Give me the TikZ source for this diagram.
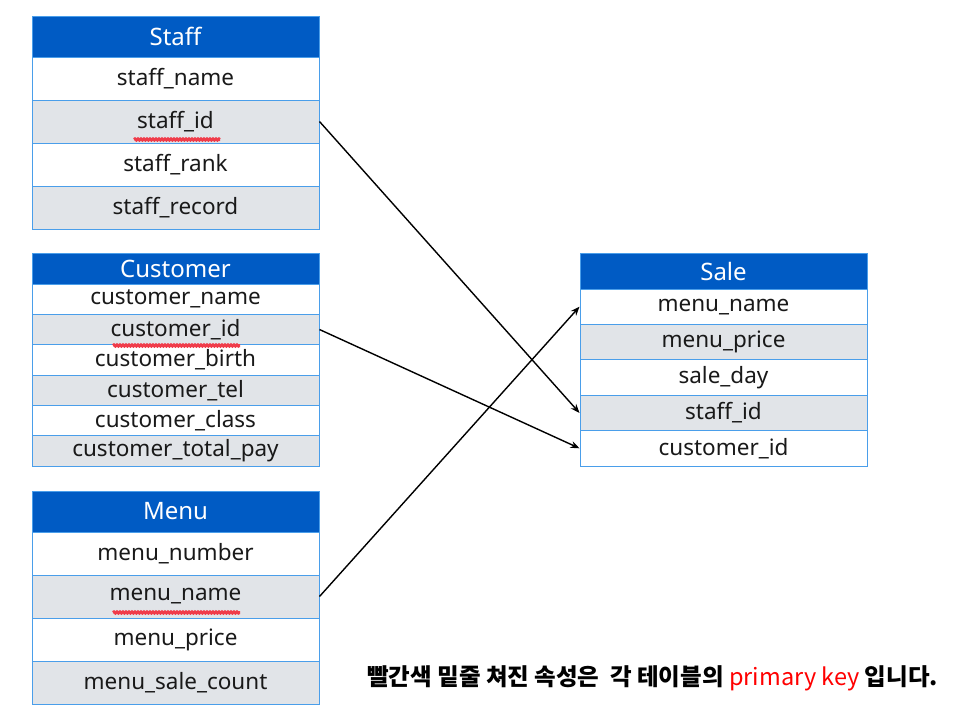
\documentclass[tikz,border=0pt]{standalone}
\usepackage{fontspec}
\setmainfont{Noto Sans}
\newfontfamily\krfont{Noto Sans CJK KR}
\usetikzlibrary{arrows.meta}
\usetikzlibrary{decorations.pathmorphing}

\definecolor{hdrblue}{HTML}{005BC4}
\definecolor{tblline}{HTML}{4A9EEA}
\definecolor{rowgray}{HTML}{E1E4E8}
\definecolor{keyred}{HTML}{F03C4A}
\definecolor{notered}{HTML}{FF0000}

\tikzset{
    cell/.style={draw=tblline, line width=1pt, minimum width=287pt, inner sep=0pt,
        font=\fontsize{22.5}{24}\selectfont, text=black!90},
    hdr/.style={cell, fill=hdrblue, text=white, font=\fontsize{24}{26}\selectfont},
    oddrow/.style={cell, fill=white},
    evenrow/.style={cell, fill=rowgray},
    pkline/.style={keyred, line width=3pt, decorate,
        decoration={snake, amplitude=0.6pt, segment length=3pt}},
    link/.style={line width=1.4pt, -{Stealth[length=9pt, width=7pt]}},
}

\begin{document}
\begin{tikzpicture}[x=1pt, y=-1pt]
            \useasboundingbox[fill=white] (0, 0) rectangle (958, 713);

            % Staff
            \node (staff) at (175.5, 36.5) [hdr, minimum height=41pt] {Staff};
            \node (staffname) at (175.5, 78.5) [oddrow, minimum height=43pt] {staff\_name};
            \node (staffid) at (175.5, 121.5) [evenrow, minimum height=43pt] {staff\_id};
            \node (staffrank) at (175.5, 164.5) [oddrow, minimum height=43pt] {staff\_rank};
            \node (staffrecord) at (175.5, 207.5) [evenrow, minimum height=43pt] {staff\_record};
            \draw[pkline] (134, 139.5) -- (220, 139.5);

            % Customer
            \node (customer) at (175.5, 268.5) [hdr, minimum height=31pt] {Customer};
            \node (custname) at (175.5, 299.2) [oddrow, minimum height=30.4pt] {customer\_name};
            \node (custid) at (175.5, 329.5) [evenrow, minimum height=30.4pt] {customer\_id};
            \node (custbirth) at (175.5, 359.8) [oddrow, minimum height=30.4pt] {customer\_birth};
            \node (custtel) at (175.5, 390.2) [evenrow, minimum height=30.4pt] {customer\_tel};
            \node (custclass) at (175.5, 420.5) [oddrow, minimum height=30.4pt] {customer\_class};
            \node (custpay) at (175.5, 450.8) [evenrow, minimum height=30.4pt] {customer\_total\_pay};
            \draw[pkline] (113, 345.5) -- (240, 345.5);

            % Menu
            \node (menu) at (175.5, 511.5) [hdr, minimum height=41pt] {Menu};
            \node (menunumber) at (175.5, 553.5) [oddrow, minimum height=43pt] {menu\_number};
            \node (menuname) at (175.5, 596.5) [evenrow, minimum height=43pt] {menu\_name};
            \node (menuprice) at (175.5, 639.5) [oddrow, minimum height=43pt] {menu\_price};
            \node (menucount) at (175.5, 682.5) [evenrow, minimum height=43pt] {menu\_sale\_count};
            \draw[pkline] (113, 612.5) -- (240, 612.5);

            % Sale
            \node (sale) at (723.5, 271) [hdr, minimum height=36pt] {Sale};
            \node (salemenuname) at (723.5, 306.7) [oddrow, minimum height=35.4pt] {menu\_name};
            \node (salemenuprice) at (723.5, 342.1) [evenrow, minimum height=35.4pt] {menu\_price};
            \node (saleday) at (723.5, 377.5) [oddrow, minimum height=35.4pt] {sale\_day};
            \node (salestaffid) at (723.5, 412.9) [evenrow, minimum height=35.4pt] {staff\_id};
            \node (salecustid) at (723.5, 448.3) [oddrow, minimum height=35.4pt] {customer\_id};

            \draw[link] (staffid.east) to (salestaffid.west);
            \draw[link] (custid.east) to (salecustid.west);
            \draw[link] (menuname.east) to (salemenuname.west);

            \node (note) at (367, 678) [anchor=west, inner sep=0pt, font=\krfont\fontsize{23.5}{26}\selectfont]
                {\bfseries 빨간색 밑줄 쳐진 속성은 \ 각 테이블의 \mdseries\textcolor{notered}{primary key} \bfseries 입니다.};
        \end{tikzpicture}
\end{document}
